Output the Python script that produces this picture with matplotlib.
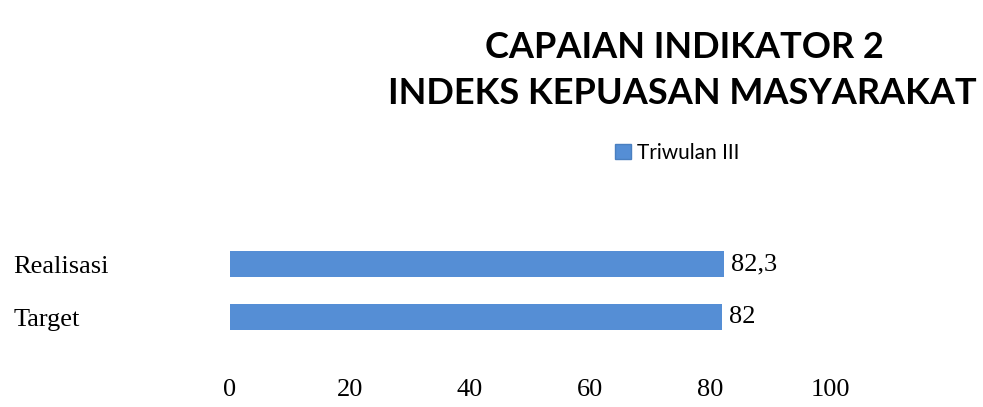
import matplotlib
matplotlib.use("Agg")
import matplotlib.pyplot as plt
from matplotlib.patches import Patch

categories = ["Target", "Realisasi"]
values = [82, 82.3]
value_labels = ["82", "82,3"]
series_name = "Triwulan III"
xticks = [0, 20, 40, 60, 80, 100]
title_lines = ["CAPAIAN INDIKATOR 2", "INDEKS KEPUASAN MASYARAKAT"]

W, H = 983, 407
fig = plt.figure(figsize=(W / 100, H / 100), dpi=100)
ax = fig.add_axes([230 / W, 1 - 360 / H, 600 / W, 160 / H])

bar_color = "#558ED5"
y = list(range(len(categories)))
ax.barh(y, values, height=0.49, color=bar_color)
ax.set_xlim(0, 100)
ax.set_ylim(-0.80, 2.21)

serif = "Liberation Serif"
fs = 19
ax.set_xticks(xticks)
ax.set_xticklabels([str(t) for t in xticks], fontfamily=serif, fontsize=fs)
ax.set_yticks(y)
ax.set_yticklabels(categories, fontfamily=serif, fontsize=fs, ha="left")
ax.tick_params(axis="x", length=0, pad=14)
ax.tick_params(axis="y", length=0, pad=156)
for s in ax.spines.values():
    s.set_visible(False)

for yi, v, lab in zip(y, values, value_labels):
    ax.annotate(lab, (v, yi), xytext=(5, 0), textcoords="offset points",
                ha="left", va="center", fontfamily=serif, fontsize=fs)

fig.text(684 / W, 1 - 47 / H, title_lines[0], ha="center", va="center",
         fontfamily="Lato", fontweight="bold", fontsize=26)
fig.text(682 / W, 1 - 94 / H, title_lines[1], ha="center", va="center",
         fontfamily="Lato", fontweight="bold", fontsize=26)

handle = Patch(facecolor=bar_color, edgecolor="#4a7fc0", label=series_name)
fig.legend(handles=[handle], loc="center", bbox_to_anchor=(677 / W, 1 - 153 / H),
           frameon=False, prop={"family": "Lato", "size": 15},
           handlelength=0.75, handleheight=0.75, handletextpad=0.3)

fig.savefig("out.png", dpi=100)
